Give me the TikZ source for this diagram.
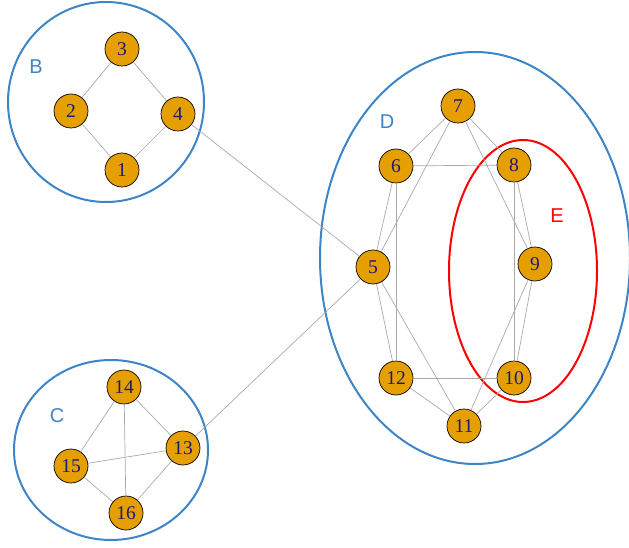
\documentclass[tikz,border=0pt]{standalone}
\usepackage{fontspec}
\setmainfont{Liberation Serif}
\newfontfamily\labfont{Liberation Sans}
\definecolor{nodefill}{RGB}{230,159,0}
\definecolor{numcol}{RGB}{28,28,110}
\definecolor{grpblue}{RGB}{61,133,198}
\definecolor{edgegray}{RGB}{170,170,170}
\tikzset{
  vert/.style={circle,draw=black,line width=0.7pt,fill=nodefill,minimum size=34pt,inner sep=0pt,text=numcol,font=\fontsize{19.5}{19.5}\selectfont},
  edge/.style={draw=edgegray,line width=0.7pt},
  grp/.style={draw=grpblue,line width=2pt},
  grpred/.style={draw=red,line width=2pt},
  glabel/.style={font=\labfont\fontsize{20}{20}\selectfont,inner sep=0pt}
}
\begin{document}
\begin{tikzpicture}[x=1pt,y=-1pt]
\useasboundingbox (0,0) rectangle (629,548);
% groups
\draw[grp] (106,102) ellipse [x radius=98, y radius=100];
\draw[grp] (111,450) ellipse [x radius=97, y radius=90];
\draw[grp] (475,258) ellipse [x radius=155, y radius=206];
\draw[grpred] (523,271) ellipse [x radius=74, y radius=131];
\node[glabel,text=grpblue] (lB) at (36,67) {B};
\node[glabel,text=grpblue] (lC) at (57,416) {C};
\node[glabel,text=grpblue] (lD) at (387,122) {D};
\node[glabel,text=red] (lE) at (557,216) {E};
% nodes
\node[vert] (n1) at (122,170) {1};
\node[vert] (n2) at (71,111) {2};
\node[vert] (n3) at (122,49) {3};
\node[vert] (n4) at (178,114) {4};
\node[vert] (n5) at (373,267) {5};
\node[vert] (n6) at (396,166) {6};
\node[vert] (n7) at (458,106) {7};
\node[vert] (n8) at (514,165) {8};
\node[vert] (n9) at (535,264) {9};
\node[vert] (n10) at (514,378) {10};
\node[vert] (n11) at (464,426) {11};
\node[vert] (n12) at (396,378) {12};
\node[vert] (n13) at (183,448) {13};
\node[vert] (n14) at (124,387) {14};
\node[vert] (n15) at (71,466) {15};
\node[vert] (n16) at (126,513) {16};
% edges
\foreach \a/\b in {1/2,2/3,3/4,4/1,4/5,5/13,13/14,13/15,13/16,14/15,14/16,15/16,
  5/6,5/7,5/12,5/11,6/7,6/8,6/12,7/8,7/9,8/9,8/10,9/10,9/11,10/11,10/12,11/12}
  \draw[edge] (n\a) -- (n\b);
\end{tikzpicture}
\end{document}
